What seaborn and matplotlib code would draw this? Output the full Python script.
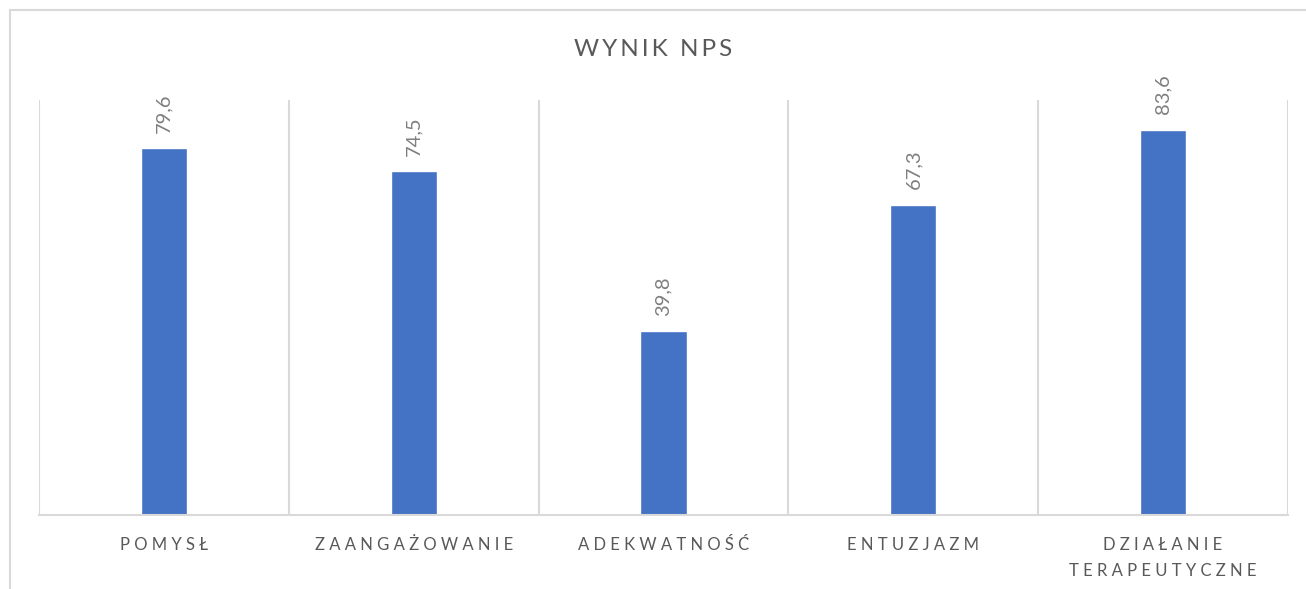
import matplotlib
matplotlib.use("Agg")
import matplotlib.pyplot as plt
import matplotlib.patches as patches
import seaborn as sns
import pandas as pd

# dane
categories = ["POMYSŁ", "ZAANGAŻOWANIE", "ADEKWATNOŚĆ", "ENTUZJAZM", "DZIAŁANIE\nTERAPEUTYCZNE"]
nps_values = [79.6, 74.5, 39.8, 67.3, 83.6]
value_labels = ["79,6", "74,5", "39,8", "67,3", "83,6"]
title = "WYNIK NPS"

sns.set_style("white")
plt.rcParams['font.family'] = ['Lato', 'DejaVu Sans']

W, H = 1306, 589
fig = plt.figure(figsize=(W / 100, H / 100), dpi=100)
ax = fig.add_axes([39 / W, 1 - 515 / H, (1288 - 39) / W, (515 - 100) / H])

df = pd.DataFrame({"kategoria": categories, "nps": nps_values})
sns.barplot(data=df, x="kategoria", y="nps", color="#4472C4", width=0.185,
            saturation=1, ax=ax)

ax.set_ylim(0, 90)
ax.set_xlim(-0.5, len(categories) - 0.5)
ax.set_yticks([])
ax.set_xlabel("")
ax.set_ylabel("")

def spaced(s):
    return "\n".join(" ".join(line) for line in s.split("\n"))

ax.set_xticks(range(len(categories)))
ax.set_xticklabels([spaced(c) for c in categories], fontsize=12,
                   color="#595959", linespacing=1.75, va="top")
ax.tick_params(axis="x", length=0, pad=16)

# linie siatki pomiedzy kategoriami
ax.set_xticks([i - 0.5 for i in range(len(categories) + 1)], minor=True)
ax.tick_params(axis="x", which="minor", length=0)
ax.grid(True, which="minor", axis="x", color="#d9d9d9", linewidth=1.5)
ax.grid(False, which="major")

for s in ["top", "left", "right"]:
    ax.spines[s].set_visible(False)
ax.spines["bottom"].set_color("#d9d9d9")
ax.spines["bottom"].set_linewidth(1.5)

for i, (v, lab) in enumerate(zip(nps_values, value_labels)):
    ax.annotate(lab, (i, v), xytext=(0, 11), textcoords="offset points",
                rotation=90, ha="center", va="bottom", fontsize=14.5,
                color="#7f7f7f", annotation_clip=False)

fig.text(0.5, 1 - 50 / H, "\u2009".join(title), ha="center", va="center",
         fontsize=17.5, color="#595959")

# ramka wykresu
fig.patches.append(patches.Rectangle((10 / W, -0.1), 2, 1 - 10 / H + 0.1,
                                     transform=fig.transFigure, fill=False,
                                     edgecolor="#d9d9d9", linewidth=1.5))

fig.savefig("out.png", dpi=100, facecolor="white")
